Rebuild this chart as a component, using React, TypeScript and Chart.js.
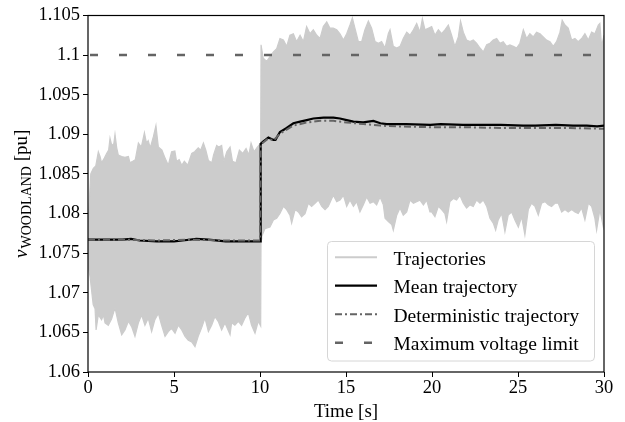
import React, { useEffect, useRef } from "react";
import { Chart, registerables } from "chart.js";
Chart.register(...registerables);

const xTickValues = [0, 5, 10, 15, 20, 25, 30];
const xTickLabels = ["0", "5", "10", "15", "20", "25", "30"];
const yTickValues = [1.06, 1.065, 1.07, 1.075, 1.08, 1.085, 1.09, 1.095, 1.1, 1.105];
const yTickLabels = ["1.06", "1.065", "1.07", "1.075", "1.08", "1.085", "1.09", "1.095", "1.1", "1.105"];

const legendLabels = ["Trajectories", "Mean trajectory", "Deterministic trajectory", "Maximum voltage limit"];
const xTitle = "Time [s]";
const yTitleMain = "v";
const yTitleSub = "WOODLAND";
const yTitleUnit = " [pu]";

// upper envelope of the trajectories
const upperT = [
  0, 0.08, 0.16, 0.31, 0.45, 0.6, 0.7, 0.79, 0.95, 1.09, 1.2, 1.28, 1.38, 1.5, 1.57, 1.67, 1.76, 1.96, 2.15, 2.35,
  2.44, 2.6, 2.75, 2.93, 3.1, 3.28, 3.4, 3.5, 3.62, 3.8, 3.95, 4.09, 4.3, 4.48, 4.67, 4.86, 5.05, 5.15, 5.3, 5.45,
  5.6, 5.8, 6.03, 6.2, 6.41, 6.55, 6.71, 6.85, 7.0, 7.2, 7.3, 7.48, 7.6, 7.77, 7.9, 8.07, 8.26, 8.4, 8.6, 8.8,
  9.0, 9.19, 9.35, 9.48, 9.65, 9.85, 10.04,
  10.06, 10.19, 10.39, 10.58, 10.78, 10.97, 11.16, 11.36, 11.55, 11.74, 11.94, 12.13, 12.33, 12.52, 12.71, 12.91,
  13.1, 13.3, 13.49, 13.68, 13.88, 14.07, 14.26, 14.46, 14.65, 14.85, 15.04, 15.23, 15.37, 15.52, 15.72, 15.91,
  16.1, 16.3, 16.49, 16.69, 16.88, 17.07, 17.27, 17.46, 17.56, 17.75, 17.95, 18.14, 18.33, 18.53, 18.72, 18.92,
  19.11, 19.3, 19.44, 19.59, 19.78, 19.98, 20.17, 20.37, 20.56, 20.75, 20.95, 21.14, 21.33, 21.53, 21.66, 21.82,
  22.01, 22.21, 22.4, 22.59, 22.79, 22.98, 23.18, 23.37, 23.56, 23.76, 23.95, 24.14, 24.34, 24.53, 24.73, 24.92,
  25.11, 25.31, 25.5, 25.69, 25.89, 26.08, 26.28, 26.47, 26.66, 26.86, 27.05, 27.24, 27.44, 27.57, 27.73, 27.92,
  28.12, 28.31, 28.5, 28.7, 28.89, 29.09, 29.28, 29.47, 29.67, 29.76, 29.86, 30.0,
];
const upperV = [
  1.078, 1.0817, 1.085, 1.0857, 1.086, 1.0878, 1.0872, 1.0864, 1.087, 1.0876, 1.088, 1.0895, 1.0886, 1.0888, 1.09, 1.0883, 1.0874, 1.0872, 1.0871, 1.0872,
  1.0864, 1.0866, 1.0868, 1.0889, 1.0884, 1.0902, 1.0889, 1.0892, 1.0883, 1.0897, 1.0911, 1.0884, 1.088, 1.087, 1.0861, 1.0878, 1.0879, 1.0866, 1.0868, 1.0861,
  1.0866, 1.0861, 1.0876, 1.0878, 1.0883, 1.088, 1.0889, 1.088, 1.0867, 1.0864, 1.0874, 1.0886, 1.0884, 1.0886, 1.0866, 1.0878, 1.0884, 1.0866, 1.0864, 1.088,
  1.0876, 1.0882, 1.0874, 1.0889, 1.0878, 1.0884, 1.0889,
  1.1013, 1.0996, 1.0992, 1.0998, 1.1004, 1.1008, 1.1021, 1.1019, 1.1011, 1.1025, 1.1027, 1.1017, 1.1025, 1.1017, 1.1036, 1.1027,
  1.1032, 1.1025, 1.1021, 1.1036, 1.1042, 1.1034, 1.1034, 1.1032, 1.1027, 1.1019, 1.1027, 1.1038, 1.1047, 1.1034, 1.1017, 1.1017,
  1.1032, 1.1043, 1.1034, 1.1017, 1.1015, 1.1017, 1.1009, 1.1027, 1.1032, 1.1011, 1.1009, 1.1011, 1.1021, 1.1029, 1.1025, 1.1032,
  1.104, 1.1029, 1.1046, 1.1032, 1.1034, 1.1036, 1.1025, 1.1032, 1.1027, 1.1032, 1.1038, 1.1025, 1.1011, 1.1023, 1.1043, 1.1029,
  1.1019, 1.1017, 1.1019, 1.1015, 1.1009, 1.1004, 1.1013, 1.1015, 1.1019, 1.1021, 1.1015, 1.1017, 1.1011, 1.1013, 1.1011, 1.1009,
  1.1015, 1.1032, 1.1021, 1.1027, 1.1023, 1.1029, 1.1027, 1.1023, 1.1019, 1.1017, 1.1011, 1.1017, 1.1029, 1.1044, 1.1038, 1.1034,
  1.1019, 1.1021, 1.1017, 1.1021, 1.1027, 1.1019, 1.1029, 1.1027, 1.1038, 1.104, 1.1011, 1.1025,
];

// lower envelope of the trajectories
const lowerT = [
  0, 0.12, 0.3, 0.41, 0.47, 0.6, 0.79, 0.9, 0.99, 1.18, 1.37, 1.57, 1.76, 1.96, 2.15, 2.35, 2.54, 2.73, 2.93, 3.12,
  3.31, 3.5, 3.7, 3.89, 4.09, 4.28, 4.48, 4.67, 4.86, 5.06, 5.25, 5.45, 5.64, 5.83, 6.03, 6.22, 6.41, 6.61, 6.8, 7.0,
  7.19, 7.38, 7.57, 7.77, 7.96, 8.26, 8.35, 8.54, 8.74, 8.93, 9.12, 9.32, 9.51, 9.71, 9.9, 10.04,
  10.06, 10.1, 10.29, 10.58, 10.78, 10.97, 11.16, 11.36, 11.55, 11.74, 11.84, 12.04, 12.23, 12.42, 12.62, 12.81,
  13.0, 13.2, 13.39, 13.59, 13.78, 13.97, 14.26, 14.46, 14.65, 14.85, 15.04, 15.23, 15.43, 15.62, 15.81, 16.01,
  16.2, 16.4, 16.59, 16.78, 16.98, 17.17, 17.27, 17.46, 17.66, 17.75, 17.95, 18.14, 18.33, 18.53, 18.72, 18.92,
  19.11, 19.3, 19.5, 19.69, 19.88, 19.98, 20.17, 20.37, 20.56, 20.75, 20.85, 21.04, 21.24, 21.43, 21.62, 21.82,
  22.01, 22.21, 22.4, 22.59, 22.79, 22.98, 23.18, 23.37, 23.56, 23.7, 23.85, 24.05, 24.24, 24.43, 24.63, 24.82,
  25.02, 25.21, 25.4, 25.6, 25.79, 25.99, 26.18, 26.37, 26.57, 26.76, 26.95, 27.15, 27.34, 27.54, 27.73, 27.92,
  28.12, 28.31, 28.5, 28.7, 28.89, 29.09, 29.28, 29.47, 29.57, 29.76, 29.96, 30.0,
];
const lowerV = [
  1.0735, 1.072, 1.0685, 1.068, 1.0653, 1.0672, 1.0666, 1.0672, 1.0662, 1.0659, 1.0667, 1.0681, 1.0662, 1.0647, 1.0653, 1.0664, 1.0657, 1.0645, 1.0662, 1.0672,
  1.0659, 1.0668, 1.0651, 1.0666, 1.0674, 1.0659, 1.0645, 1.0651, 1.0655, 1.0649, 1.0659, 1.0653, 1.0645, 1.064, 1.0638, 1.0632, 1.0645, 1.0656, 1.0668, 1.0651,
  1.0659, 1.067, 1.0664, 1.0653, 1.0662, 1.0647, 1.0662, 1.0659, 1.0664, 1.0659, 1.0668, 1.0675, 1.0659, 1.0649, 1.0664, 1.0658,
  1.0768, 1.0771, 1.0781, 1.0783, 1.0792, 1.0794, 1.08, 1.0809, 1.0805, 1.0798, 1.0788, 1.0805, 1.0802, 1.0796, 1.08, 1.0813,
  1.0809, 1.0813, 1.0817, 1.0809, 1.0805, 1.0809, 1.0823, 1.0815, 1.0817, 1.0823, 1.0809, 1.0817, 1.0809, 1.0815, 1.0802, 1.0811,
  1.0821, 1.0813, 1.0815, 1.0811, 1.0821, 1.0811, 1.0794, 1.079, 1.0786, 1.0779, 1.0798, 1.0807, 1.0798, 1.0802, 1.0817, 1.0813,
  1.0815, 1.0817, 1.0811, 1.0817, 1.0802, 1.0802, 1.0796, 1.0809, 1.0805, 1.08, 1.079, 1.0815, 1.0819, 1.0817, 1.0823, 1.0813,
  1.0807, 1.0811, 1.0809, 1.0817, 1.0813, 1.0817, 1.0809, 1.0794, 1.0788, 1.0779, 1.0792, 1.08, 1.0777, 1.0798, 1.0802, 1.0792,
  1.0783, 1.0796, 1.0773, 1.0805, 1.0813, 1.0809, 1.0798, 1.0813, 1.0815, 1.0811, 1.0809, 1.0813, 1.0813, 1.0802, 1.0805, 1.0802,
  1.0805, 1.0802, 1.08, 1.0807, 1.0792, 1.0813, 1.0809, 1.0794, 1.0779, 1.0805, 1.0783, 1.079,
];

const meanT = [0, 1, 2, 2.5, 3, 4, 5, 5.5, 6.3, 7, 8, 9, 10.0, 10.04, 10.2, 10.49, 10.78, 10.9, 11.16, 11.55, 11.94, 12.33, 12.72, 13.1, 13.7, 14.27, 14.65, 15.04, 15.43, 16.0, 16.59, 17.0, 17.37, 18.5, 19.9, 20.5, 21.8, 23.0, 24.0, 25.3, 26.0, 27.2, 28.2, 29.0, 29.6, 30.0];
const meanV = [1.0767, 1.0767, 1.0767, 1.0768, 1.0766, 1.0765, 1.0765, 1.0766, 1.0768, 1.0767, 1.0765, 1.0765, 1.0765, 1.0888, 1.0891, 1.0896, 1.0893, 1.0893, 1.0903, 1.0908, 1.0914, 1.0916, 1.0918, 1.092, 1.0921, 1.0921, 1.092, 1.0918, 1.0916, 1.0915, 1.0917, 1.0914, 1.0913, 1.0913, 1.0912, 1.0913, 1.0912, 1.0912, 1.0912, 1.0911, 1.0911, 1.0912, 1.0911, 1.0911, 1.091, 1.0911];

const detT = [0, 2, 4, 6, 8, 10.0, 10.04, 10.2, 10.49, 10.78, 11.16, 11.55, 11.94, 12.72, 13.5, 14.27, 15.04, 16, 17, 18, 20, 22, 24, 26, 28, 30];
const detV = [1.0767, 1.0767, 1.0766, 1.0767, 1.0766, 1.0766, 1.0887, 1.089, 1.0895, 1.0892, 1.0901, 1.0906, 1.0911, 1.0915, 1.0917, 1.0917, 1.0915, 1.0913, 1.0911, 1.091, 1.0909, 1.0909, 1.0908, 1.0908, 1.0908, 1.0907];

const limitT = [0, 30];
const limitV = [1.1, 1.1];

const toPts = (t: number[], v: number[]) => t.map((x, i) => ({ x, y: v[i] }));

const BAND = "#cccccc";
const DIM = "#646464";
const SERIF = '"Liberation Serif", "Times New Roman", serif';

export default function App() {
  const ref = useRef<HTMLCanvasElement | null>(null);
  useEffect(() => {
    document.body.style.margin = "0";
    const canvas = ref.current;
    if (!canvas) return;

    const decor = {
      id: "decor",
      afterDraw(chart: any) {
        const { ctx, chartArea: a } = chart;
        ctx.save();
        // frame
        ctx.strokeStyle = "#000";
        ctx.lineWidth = 1.2;
        ctx.setLineDash([]);
        ctx.strokeRect(a.left, a.top, a.right - a.left, a.bottom - a.top);

        // legend
        const bx = a.right - 276.5, by = a.bottom - 130.5, bw = 267, bh = 119.5, r = 4;
        ctx.beginPath();
        ctx.moveTo(bx + r, by);
        ctx.arcTo(bx + bw, by, bx + bw, by + bh, r);
        ctx.arcTo(bx + bw, by + bh, bx, by + bh, r);
        ctx.arcTo(bx, by + bh, bx, by, r);
        ctx.arcTo(bx, by, bx + bw, by, r);
        ctx.closePath();
        ctx.fillStyle = "rgba(255,255,255,0.8)";
        ctx.fill();
        ctx.strokeStyle = "#d6d6d6";
        ctx.lineWidth = 1;
        ctx.stroke();
        const rows = [15.8, 44.2, 72.8, 101.2];
        const styles = [
          { c: BAND, w: 2, d: [] as number[] },
          { c: "#000", w: 2.2, d: [] as number[] },
          { c: DIM, w: 2, d: [7, 3, 2, 3] },
          { c: DIM, w: 2.5, d: [8, 21] },
        ];
        ctx.font = `19.5px ${SERIF}`;
        ctx.textAlign = "left";
        ctx.textBaseline = "alphabetic";
        rows.forEach((ry, i) => {
          const y = by + ry;
          const s = styles[i];
          ctx.beginPath();
          ctx.strokeStyle = s.c;
          ctx.lineWidth = s.w;
          ctx.setLineDash(s.d);
          ctx.lineDashOffset = 0;
          ctx.moveTo(bx + 7.5, y);
          ctx.lineTo(bx + 49.5, y);
          ctx.stroke();
          ctx.setLineDash([]);
          ctx.fillStyle = "#000";
          ctx.fillText(legendLabels[i], bx + 66, y + 7.5);
        });

        // x title
        ctx.font = `19px ${SERIF}`;
        ctx.textAlign = "center";
        ctx.fillStyle = "#000";
        ctx.fillText(xTitle, (a.left + a.right) / 2, 417);

        // y title
        ctx.translate(27, (a.top + a.bottom) / 2);
        ctx.rotate(-Math.PI / 2);
        const f1 = `italic 19px ${SERIF}`;
        const f2 = `14px ${SERIF}`;
        const f3 = `19px ${SERIF}`;
        ctx.font = f1; const w1 = ctx.measureText(yTitleMain).width;
        ctx.font = f2; const w2 = ctx.measureText(yTitleSub).width;
        ctx.font = f3; const w3 = ctx.measureText(yTitleUnit).width;
        const total = w1 + 1 + w2 + w3;
        let sx = -total / 2;
        ctx.textAlign = "left";
        ctx.font = f1; ctx.fillText(yTitleMain, sx, 0); sx += w1 + 1;
        ctx.font = f2; ctx.fillText(yTitleSub, sx, 3.5); sx += w2;
        ctx.font = f3; ctx.fillText(yTitleUnit, sx, 0);
        ctx.restore();
      },
    };

    const chart = new Chart(canvas, {
      type: "line",
      data: {
        datasets: [
          {
            label: "upper",
            data: toPts(upperT, upperV),
            borderColor: BAND,
            backgroundColor: BAND,
            borderWidth: 1.2,
            pointRadius: 0,
            fill: "+1",
            tension: 0,
            order: 4,
          },
          {
            label: "lower",
            data: toPts(lowerT, lowerV),
            borderColor: BAND,
            backgroundColor: BAND,
            borderWidth: 1.2,
            pointRadius: 0,
            fill: false,
            tension: 0,
            order: 5,
          },
          {
            label: legendLabels[3],
            data: toPts(limitT, limitV),
            borderColor: DIM,
            borderWidth: 2.5,
            borderDash: [8, 21],
            borderDashOffset: -2,
            pointRadius: 0,
            fill: false,
            order: 2,
          },
          {
            label: legendLabels[1],
            data: toPts(meanT, meanV),
            borderColor: "#000",
            borderWidth: 2.2,
            pointRadius: 0,
            fill: false,
            tension: 0,
            order: 1,
          },
          {
            label: legendLabels[2],
            data: toPts(detT, detV),
            borderColor: DIM,
            borderWidth: 2,
            borderDash: [7, 3, 2, 3],
            pointRadius: 0,
            fill: false,
            tension: 0,
            order: 0,
          },
        ],
      },
      options: {
        animation: false,
        responsive: false,
        maintainAspectRatio: false,
        layout: { padding: { left: 0, top: 15.5, right: 21, bottom: 0 } },
        plugins: { legend: { display: false }, tooltip: { enabled: false }, filler: { propagate: false } },
        scales: {
          x: {
            type: "linear",
            min: 0,
            max: 30,
            afterFit: (s: any) => { s.height = 50; },
            afterBuildTicks: (s: any) => { s.ticks = xTickValues.map((v) => ({ value: v })); },
            ticks: {
              autoSkip: false,
              maxRotation: 0,
              padding: 0,
              color: "#000",
              font: { family: SERIF, size: 18.5 },
              callback: (_v: any, i: number) => xTickLabels[i],
            },
            grid: { drawOnChartArea: false, drawTicks: true, tickLength: 5, color: "#000", lineWidth: 1 },
            border: { display: false },
          },
          y: {
            type: "linear",
            min: 1.06,
            max: 1.105,
            afterFit: (s: any) => { s.width = 88; },
            afterBuildTicks: (s: any) => { s.ticks = yTickValues.map((v) => ({ value: v })); },
            ticks: {
              autoSkip: false,
              padding: 3,
              color: "#000",
              font: { family: SERIF, size: 18.5 },
              callback: (_v: any, i: number) => yTickLabels[i],
            },
            grid: { drawOnChartArea: false, drawTicks: true, tickLength: 5, color: "#000", lineWidth: 1 },
            border: { display: false },
          },
        },
      },
      plugins: [decor],
    });
    return () => chart.destroy();
  }, []);

  return (
    <div style={{ width: 625, height: 422, position: "relative" }}>
      <canvas ref={ref} width={625} height={422} style={{ width: 625, height: 422, display: "block" }} />
    </div>
  );
}
